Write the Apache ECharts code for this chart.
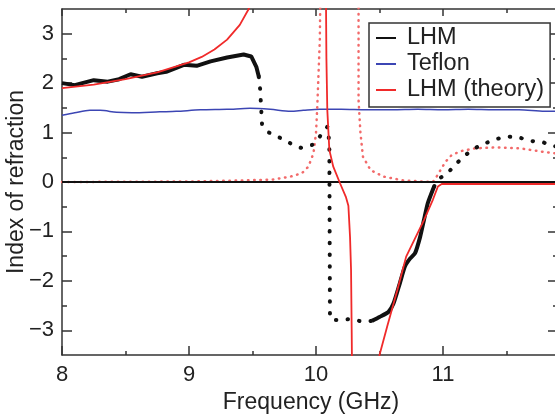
<!DOCTYPE html>
<html>
<head>
<meta charset="utf-8">
<script src="https://cdn.jsdelivr.net/npm/echarts@6/dist/echarts.min.js"></script>
<style>
  html, body { margin: 0; padding: 0; background: #fff; }
  #chart { width: 555px; height: 416px; }
</style>
</head>
<body>
<div id="chart"></div>
<script>
// ===== data =====
// LHM measured: solid stretches + dotted stretches, [GHz, n]
const lhmSolidLow = [
  [8.00, 2.00], [8.10, 1.96], [8.25, 2.06], [8.36, 2.03], [8.45, 2.08], [8.54, 2.18],
  [8.63, 2.13], [8.75, 2.20], [8.82, 2.23], [8.96, 2.37], [9.06, 2.35], [9.17, 2.44],
  [9.30, 2.52], [9.43, 2.58], [9.49, 2.54], [9.53, 2.33], [9.55, 2.13]
]
const lhmDottedMid = [
  [9.55, 2.13], [9.56, 1.88], [9.575, 1.17], [9.63, 1.00], [9.72, 0.89], [9.80, 0.78],
  [9.88, 0.69], [9.97, 0.75], [10.03, 0.92], [10.09, 1.12], [10.105, 0.80],
  [10.11, -2.76], [10.13, -2.79], [10.19, -2.79], [10.28, -2.77], [10.37, -2.83], [10.44, -2.81]
]
const lhmSolidHigh = [
  [10.44, -2.81], [10.50, -2.73], [10.57, -2.63], [10.61, -2.46], [10.66, -2.05],
  [10.70, -1.71], [10.74, -1.55], [10.78, -1.44], [10.82, -1.11], [10.85, -0.77],
  [10.88, -0.43], [10.93, -0.09]
]
const lhmDottedTop = [
  [10.93, -0.09], [10.96, 0.05], [11.04, 0.19], [11.10, 0.36], [11.17, 0.53], [11.24, 0.67],
  [11.33, 0.78], [11.42, 0.87], [11.51, 0.92], [11.60, 0.90], [11.69, 0.83], [11.78, 0.81],
  [11.87, 0.73], [11.92, 0.70]
]
const teflon = [
  [8.00, 1.35], [8.10, 1.40], [8.22, 1.45], [8.30, 1.45], [8.43, 1.41], [8.55, 1.40],
  [8.77, 1.42], [8.90, 1.43], [9.09, 1.46], [9.30, 1.47], [9.48, 1.49], [9.64, 1.47],
  [9.80, 1.43], [9.90, 1.45], [10.03, 1.47], [10.20, 1.47], [10.40, 1.46], [10.60, 1.46],
  [10.80, 1.47], [11.00, 1.46], [11.20, 1.47], [11.40, 1.46], [11.60, 1.46], [11.80, 1.43],
  [11.92, 1.43]
]
// theory: real part (solid, broken where it leaves the frame) and dotted companion
const theorySolid = [
  [8.00, 1.90], [8.25, 1.97], [8.50, 2.08], [8.75, 2.22], [9.00, 2.42], [9.10, 2.53],
  [9.20, 2.68], [9.30, 2.88], [9.40, 3.18], [9.47, 3.50], [9.52, 3.90],
  [9.80, null],
  [10.078, 3.90], [10.082, 2.50], [10.089, 1.46], [10.105, 0.65], [10.136, 0.31],
  [10.19, -0.03], [10.235, -0.30], [10.255, -0.48], [10.268, -1.11], [10.276, -1.78],
  [10.281, -3.00], [10.284, -3.90],
  [10.40, null],
  [10.495, -3.90], [10.50, -3.50], [10.56, -2.93], [10.64, -2.19], [10.71, -1.51],
  [10.85, -0.77], [10.92, -0.36], [10.96, -0.09], [10.99, -0.04], [11.03, -0.04],
  [11.92, -0.04]
]
const theoryDotted = [
  [8.00, 0.00], [9.00, 0.01], [9.40, 0.03], [9.66, 0.05], [9.80, 0.11], [9.89, 0.18],
  [9.94, 0.31], [9.98, 0.58], [10.00, 0.99], [10.01, 1.52], [10.02, 2.20], [10.03, 2.87],
  [10.035, 3.90],
  [10.20, null],
  [10.335, 3.90], [10.335, 1.66], [10.35, 0.99], [10.37, 0.51], [10.43, 0.24], [10.53, 0.11],
  [10.69, 0.03], [10.92, 0.00], [10.95, 0.11], [10.98, 0.24], [11.02, 0.41], [11.07, 0.55],
  [11.15, 0.63], [11.25, 0.68], [11.42, 0.70], [11.61, 0.68], [11.79, 0.61], [11.92, 0.57]
]
const zeroLine = [[8, 0], [12, 0]]

const yMajor = [-3, -2, -1, 0, 1, 2, 3]
const yMinor = [-2.5, -1.5, -0.5, 0.5, 1.5, 2.5]

// ===== style =====
const FONT = "'Liberation Sans', Arial, Helvetica, sans-serif"
const AXIS = '#333'
const TEXT = '#222'
const BLACK = '#111'
const BLUE = '#3c46b4'
const RED = '#f02a2a'
const RED_DOT = '#f26a6a'

const frameLine = { show: true, onZero: false, lineStyle: { color: AXIS, width: 1.5 } }
const noLine = { show: false, onZero: false }
const tickStyle = { color: AXIS, width: 1.5 }

function fmtMinus(v) {
  return v < 0 ? '\u2212' + Math.abs(v) : String(v)
}

const chart = echarts.init(document.getElementById('chart'), null, { renderer: 'canvas' })

chart.setOption({
  animation: false,
  backgroundColor: '#fff',
  textStyle: { fontFamily: FONT },
  grid: { left: 62, right: -15, top: 9, bottom: 61, containLabel: false, outerBoundsMode: 'none' },
  legend: {
    data: ['LHM', 'Teflon', 'LHM (theory)'],
    orient: 'vertical',
    left: 369,
    top: 23,
    selectedMode: false,
    backgroundColor: '#fff',
    borderColor: AXIS,
    borderWidth: 1.5,
    borderRadius: 0,
    padding: [3, 6, 5, 6],
    itemGap: 2,
    itemWidth: 20,
    itemHeight: 4,
    itemStyle: { opacity: 0 },
    textStyle: { fontSize: 23.5, color: TEXT, fontFamily: FONT, lineHeight: 23, padding: [0, 0, 0, 6] },
  },
  xAxis: [
    {
      type: 'value', position: 'bottom', min: 8, max: 12, interval: 1,
      axisLine: frameLine,
      axisTick: { inside: true, length: 9, lineStyle: tickStyle },
      minorTick: { show: true, splitNumber: 2, length: 4, lineStyle: tickStyle },
      axisLabel: { fontSize: 22, color: TEXT, fontFamily: FONT, margin: 9, showMaxLabel: false },
      splitLine: { show: false },
      name: 'Frequency (GHz)', nameLocation: 'middle', nameGap: 33,
      nameTextStyle: { fontSize: 23, color: TEXT, fontFamily: FONT, padding: [0, 10, 0, 0] },
    },
    {
      type: 'value', position: 'top', min: 8, max: 12, interval: 1,
      axisLine: frameLine,
      axisTick: { inside: true, length: 7, lineStyle: tickStyle },
      minorTick: { show: true, splitNumber: 2, length: 4, lineStyle: tickStyle },
      axisLabel: { show: false },
      splitLine: { show: false },
    },
  ],
  yAxis: [
    {
      type: 'value', position: 'left', min: -3.5, max: 3.5, interval: 0.5,
      axisLine: frameLine,
      axisTick: { inside: true, length: 10, lineStyle: tickStyle, customValues: yMajor },
      axisLabel: { fontSize: 22, color: TEXT, fontFamily: FONT, margin: 8, customValues: yMajor, formatter: fmtMinus },
      splitLine: { show: false },
      name: 'Index of refraction', nameLocation: 'middle', nameGap: 34, nameRotate: 90,
      nameMoveOverlap: false,
      nameTextStyle: { fontSize: 23, color: TEXT, fontFamily: FONT },
    },
    {
      type: 'value', position: 'left', min: -3.5, max: 3.5, interval: 0.5,
      axisLine: noLine,
      axisTick: { inside: true, length: 5, lineStyle: tickStyle, customValues: yMinor },
      axisLabel: { show: false },
      splitLine: { show: false },
    },
    {
      type: 'value', position: 'right', min: -3.5, max: 3.5, interval: 0.5,
      axisLine: frameLine,
      axisTick: { inside: true, length: 22, lineStyle: tickStyle, customValues: yMajor },
      axisLabel: { show: false },
      splitLine: { show: false },
    },
    {
      type: 'value', position: 'right', min: -3.5, max: 3.5, interval: 0.5,
      axisLine: noLine,
      axisTick: { inside: true, length: 17, lineStyle: tickStyle, customValues: yMinor },
      axisLabel: { show: false },
      splitLine: { show: false },
    },
  ],
  series: [
    {
      name: 'zero', type: 'line', data: zeroLine, symbol: 'none', silent: true,
      lineStyle: { color: BLACK, width: 1.8 }, z: 3,
    },
    {
      name: 'LHM', type: 'line', data: lhmSolidLow, symbol: 'none',
      lineStyle: { color: BLACK, width: 4 }, itemStyle: { color: BLACK }, z: 4,
    },
    {
      name: 'Teflon', type: 'line', data: teflon, symbol: 'none', smooth: 0.3,
      lineStyle: { color: BLUE, width: 1.5 }, itemStyle: { color: BLUE }, z: 2,
    },
    {
      name: 'LHM (theory)', type: 'line', data: theorySolid, symbol: 'none', connectNulls: false,
      lineStyle: { color: RED, width: 1.8 }, itemStyle: { color: RED }, z: 5,
    },
    {
      name: 'LHM', type: 'line', data: lhmDottedMid, symbol: 'none',
      lineStyle: { color: BLACK, width: 4, type: [0.5, 11.2], cap: 'round' }, z: 4,
    },
    {
      name: 'LHM', type: 'line', data: lhmSolidHigh, symbol: 'none', smooth: 0.2,
      lineStyle: { color: BLACK, width: 4 }, z: 4,
    },
    {
      name: 'LHM', type: 'line', data: lhmDottedTop, symbol: 'none',
      lineStyle: { color: BLACK, width: 4, type: [0.5, 11.2], cap: 'round' }, z: 4,
    },
    {
      name: 'LHM (theory)', type: 'line', data: theoryDotted, symbol: 'none', connectNulls: false,
      lineStyle: { color: RED_DOT, width: 2.5, type: [0.5, 5.7], cap: 'round' }, z: 2,
    },
  ],
})
</script>
</body>
</html>
